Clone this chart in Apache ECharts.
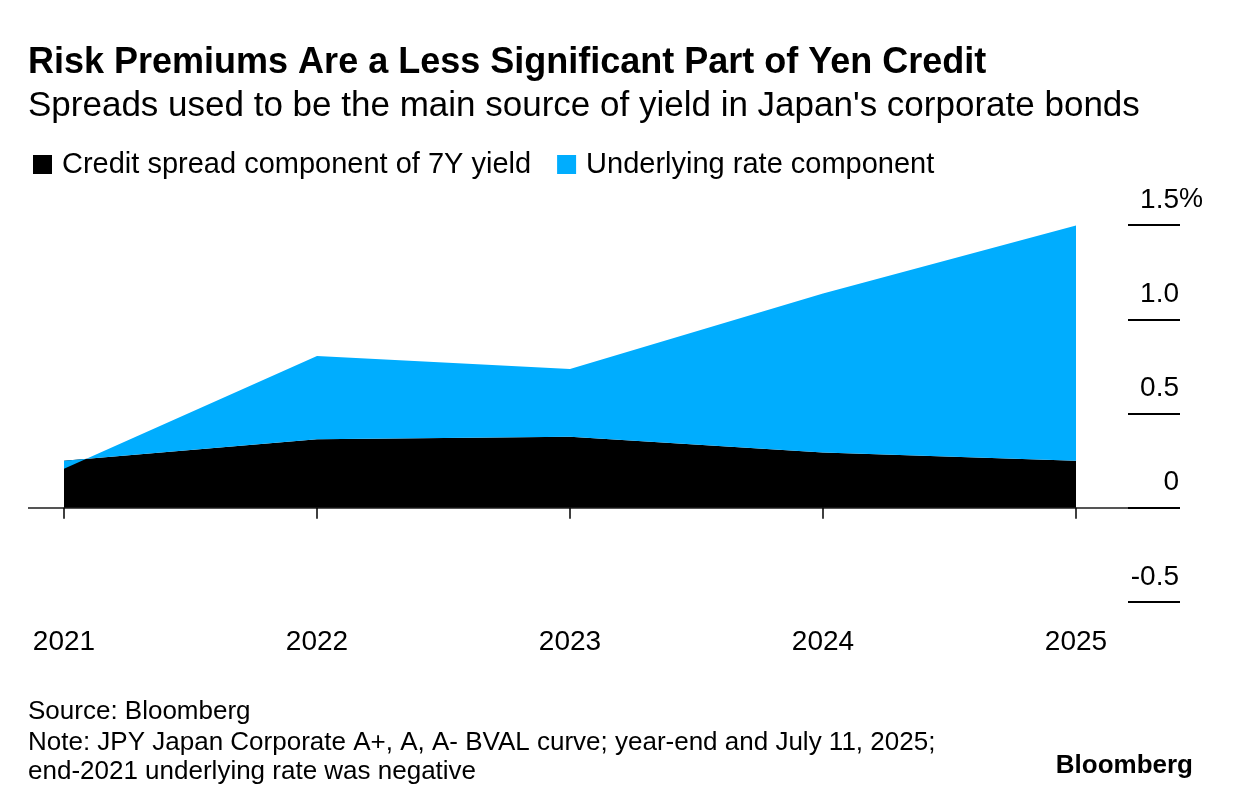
<!DOCTYPE html>
<html style="height: 100%">
<head>
<meta charset="utf-8">
<script src="https://cdn.jsdelivr.net/npm/echarts@6/dist/echarts.min.js"></script>
</head>
<body style="height: 100%; margin: 0; background: #fff">
<div id="container" style="width: 1233px; height: 808px"></div>
<script type="text/javascript">
// values (percent)
var years = ['2021', '2022', '2023', '2024', '2025'];
var creditSpread = [0.249, 0.364, 0.377, 0.293, 0.249];
var underlyingRate = [-0.042, 0.441, 0.359, 0.843, 1.249];
var yMin = -0.5, yMax = 1.5, yStep = 0.5;

var FONT = '"Liberation Sans", Arial, sans-serif';
var BLUE = '#00adfe';

var dom = document.getElementById('container');
var myChart = echarts.init(dom);

var option = {
    animation: false,
    textStyle: { fontFamily: FONT },
    title: {
        text: 'Risk Premiums Are a Less Significant Part of Yen Credit',
        subtext: "Spreads used to be the main source of yield in Japan's corporate bonds",
        left: 23,
        top: 40,
        itemGap: 8,
        textStyle: { fontFamily: FONT, fontSize: 36, fontWeight: 'bold', color: '#000' },
        subtextStyle: { fontFamily: FONT, fontSize: 35, color: '#000' }
    },
    legend: {
        left: 28,
        top: 145,
        icon: 'rect',
        itemWidth: 19,
        itemHeight: 19,
        itemGap: 26,
        textStyle: { fontFamily: FONT, fontSize: 29, color: '#000', padding: [0, 0, 0, 5] },
        data: ['Credit spread component of 7Y yield', 'Underlying rate component']
    },
    // grid 0 holds the areas, grid 1 (full width) carries the zero line and the right-hand scale
    grid: [
        { left: 64, right: 157, top: 225, bottom: 206 },
        { left: 28, right: 53, top: 225, bottom: 206 }
    ],
    xAxis: [
        {
            type: 'category',
            gridIndex: 0,
            data: years,
            boundaryGap: false,
            axisLine: { show: false },
            splitLine: { show: false },
            axisTick: {
                show: true,
                interval: 0,
                length: 11,
                lineStyle: { color: '#000', width: 1.5 }
            },
            axisLabel: {
                interval: 0,
                margin: 26,
                fontSize: 28,
                color: '#000',
                fontFamily: FONT
            }
        },
        {
            type: 'value',
            gridIndex: 1,
            min: 0,
            max: 1,
            show: false
        }
    ],
    yAxis: [
        {
            type: 'value',
            gridIndex: 0,
            min: yMin,
            max: yMax,
            interval: yStep,
            show: false,
            splitLine: { show: false }
        },
        {
            type: 'value',
            gridIndex: 1,
            position: 'right',
            min: yMin,
            max: yMax,
            interval: yStep,
            axisLine: { show: false, onZero: false },
            axisTick: {
                show: true,
                inside: true,
                length: 52,
                lineStyle: { color: '#000', width: 2 }
            },
            splitLine: {
                show: true,
                lineStyle: { color: ['rgba(0,0,0,0)', '#555', 'rgba(0,0,0,0)', 'rgba(0,0,0,0)', 'rgba(0,0,0,0)'], width: 2 }
            },
            axisLabel: {
                inside: true,
                align: 'right',
                verticalAlign: 'bottom',
                margin: -23,
                padding: [0, 0, 11, 0],
                color: '#000',
                fontFamily: FONT,
                fontSize: 28,
                formatter: function (v) {
                    var s = v === 0 ? '0' : v.toFixed(1);
                    return '{n|' + s + '}' + (v === yMax ? '{p|%}' : '{h|%}');
                },
                rich: {
                    n: { fontSize: 28, color: '#000', fontFamily: FONT },
                    p: { fontSize: 27, color: '#000', fontFamily: FONT },
                    h: { fontSize: 27, color: 'rgba(0,0,0,0)', fontFamily: FONT }
                }
            }
        }
    ],
    series: [
        {
            name: 'Credit spread component of 7Y yield',
            type: 'line',
            xAxisIndex: 0,
            yAxisIndex: 0,
            stack: 'yield',
            stackStrategy: 'all',
            symbol: 'none',
            lineStyle: { width: 0 },
            itemStyle: { color: '#000' },
            areaStyle: { color: '#000', opacity: 1 },
            data: creditSpread
        },
        {
            name: 'Underlying rate component',
            type: 'line',
            xAxisIndex: 0,
            yAxisIndex: 0,
            stack: 'yield',
            stackStrategy: 'all',
            symbol: 'none',
            lineStyle: { width: 0 },
            itemStyle: { color: BLUE },
            areaStyle: { color: BLUE, opacity: 1 },
            data: underlyingRate
        }
    ],
    graphic: [
        { type: 'text', left: 28, top: 699, style: { text: 'Source: Bloomberg', font: '26px ' + FONT, fill: '#000' } },
        { type: 'text', left: 28, top: 730, style: { text: 'Note: JPY Japan Corporate A+, A, A- BVAL curve; year-end and July 11, 2025;', font: '26px ' + FONT, fill: '#000' } },
        { type: 'text', left: 28, top: 759, style: { text: 'end-2021 underlying rate was negative', font: '26px ' + FONT, fill: '#000' } },
        { type: 'text', right: 40, top: 753, style: { text: 'Bloomberg', font: 'bold 26px ' + FONT, fill: '#000' } }
    ]
};

if (option && typeof option === 'object') {
    myChart.setOption(option, true);
}
</script>
</body>
</html>
